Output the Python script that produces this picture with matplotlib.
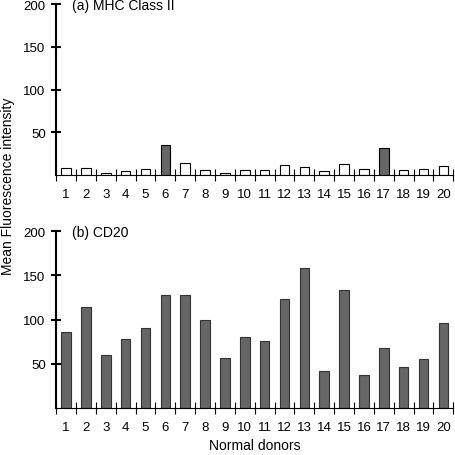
import numpy as np
import matplotlib
matplotlib.use('Agg')
import matplotlib.pyplot as plt

plt.rcParams['font.family'] = ['Liberation Sans', 'DejaVu Sans']
plt.rcParams['font.size'] = 9.5

donors = list(range(1, 21))
# MHC class II: most bars hollow, two donors filled
mhc = [8, 8, 2, 5, 6.5, 35, 14, 5.5, 2, 6, 6, 12, 9, 4.5, 12.5, 6.5, 32, 5.5, 7.5, 10]
mhc_filled = [6, 17]
cd20 = [86, 114, 60, 78, 91, 128, 128, 100, 57, 80, 76, 123, 158, 42, 133, 37, 68, 46, 55, 96]

dark = '#666666'

fig = plt.figure(figsize=(4.56, 4.56), dpi=100)
ax1 = fig.add_axes([0.123, 0.614, 0.871, 0.375])
ax2 = fig.add_axes([0.123, 0.103, 0.871, 0.388])

x = np.array(donors)
cols = [dark if d in mhc_filled else 'white' for d in donors]
ax1.bar(x, mhc, width=0.48, color=cols, edgecolor='black', linewidth=0.8)
ax2.bar(x, cd20, width=0.48, color=dark, edgecolor='#333333', linewidth=0.8)

for ax, title in [(ax1, '(a) MHC Class II'), (ax2, '(b) CD20')]:
    ax.set_xlim(0.5, 20.5)
    ax.set_ylim(0, 200)
    ax.set_yticks([50, 100, 150, 200])
    ax.set_xticks(np.arange(0.5, 21, 1))
    ax.set_xticklabels([])
    ax.set_xticks(x, minor=True)
    ax.set_xticklabels([str(d) for d in donors], minor=True)
    ax.tick_params(axis='x', which='major', direction='inout', length=8, width=0.8)
    ax.tick_params(axis='x', which='minor', length=0, pad=9)
    ax.tick_params(axis='y', direction='inout', length=7, width=1.5, pad=4)
    ax.spines['top'].set_visible(False)
    ax.spines['right'].set_visible(False)
    ax.spines['left'].set_linewidth(1.5)
    ax.spines['bottom'].set_linewidth(0.8)
    ax.text(0.04, 0.995, title, transform=ax.transAxes, va='center', ha='left', fontsize=10)

fig.text(0.018, 0.592, 'Mean Fluorescence intensity', rotation=90, va='center', ha='center', fontsize=10)
ax2.set_xlabel('Normal donors', fontsize=10, labelpad=4)

fig.savefig('out.png', dpi=100)
